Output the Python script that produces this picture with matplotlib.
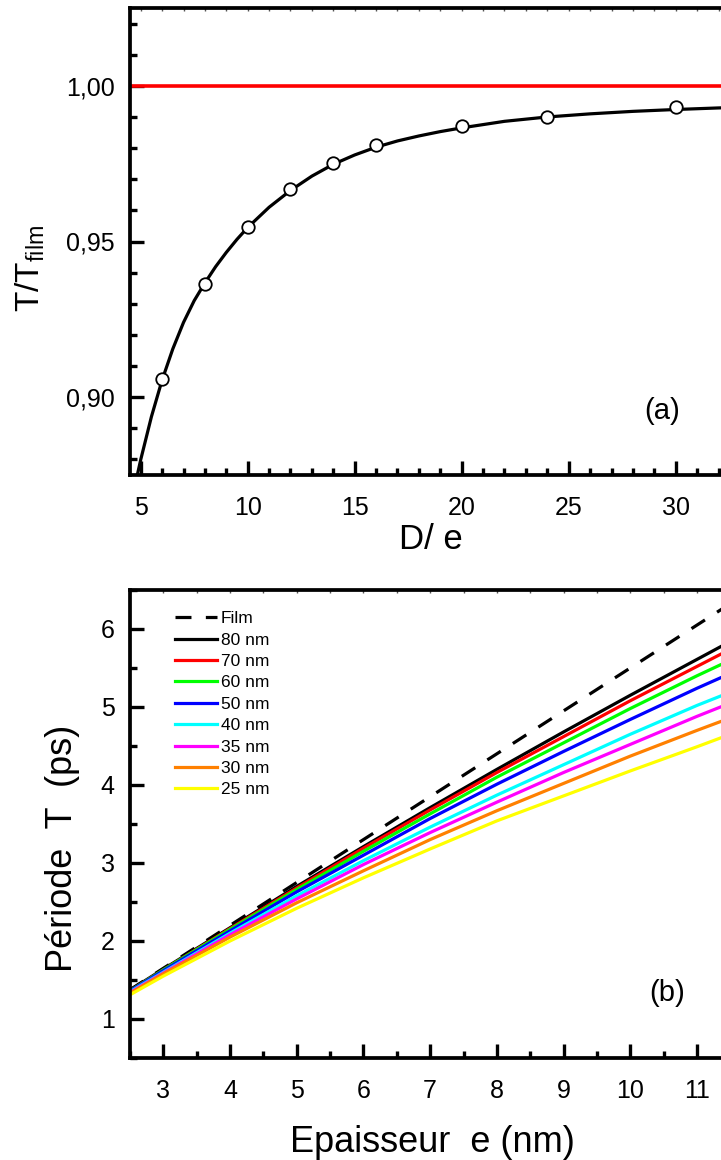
import matplotlib
matplotlib.use('Agg')
import matplotlib.pyplot as plt
from matplotlib.ticker import MultipleLocator, FuncFormatter

plt.rcParams['font.family'] = ['Liberation Sans', 'DejaVu Sans']
plt.rcParams['mathtext.default'] = 'regular'

# (a) rapport T/Tfilm en fonction de D/e
d_sur_e_points = [6, 8, 10, 12, 14, 16, 20, 24, 30]
rapport_points = [0.9058, 0.9365, 0.9548, 0.9668, 0.9752, 0.981, 0.9871, 0.990, 0.9932]

d_sur_e_courbe = [4.6, 5.0, 5.5, 6.0, 6.5, 7.0, 7.5, 8.0, 8.5, 9.0, 9.5, 10, 11, 12, 13, 14,
                  15, 16, 17, 18, 19, 20, 22, 24, 26, 28, 30, 32, 34]
rapport_courbe = [0.8675, 0.8799, 0.8937, 0.9055, 0.9155, 0.9240, 0.9310, 0.9367, 0.9419,
                  0.9465, 0.9507, 0.9545, 0.9610, 0.9664, 0.9710, 0.9748, 0.9778, 0.9803,
                  0.9823, 0.9839, 0.9853, 0.9865, 0.9886, 0.9900, 0.9910, 0.9918, 0.9924,
                  0.9929, 0.9933]

rapport_film = 1.0

# (b) periode T en fonction de l'epaisseur
epaisseur_film = [2.5, 11.5]
periode_film = [1.375, 6.325]

epaisseur = [2.5, 3, 4, 5, 6, 7, 8, 9, 10, 11, 11.5]
tailles = ['80 nm', '70 nm', '60 nm', '50 nm', '40 nm', '35 nm', '30 nm', '25 nm']
periode_80 = [1.37, 1.64, 2.17, 2.70, 3.21, 3.71, 4.20, 4.68, 5.15, 5.61, 5.84]
periode_70 = [1.36, 1.63, 2.16, 2.68, 3.19, 3.68, 4.16, 4.62, 5.08, 5.52, 5.74]
periode_60 = [1.36, 1.63, 2.15, 2.66, 3.15, 3.63, 4.10, 4.54, 4.98, 5.40, 5.60]
periode_50 = [1.36, 1.62, 2.13, 2.63, 3.10, 3.57, 4.01, 4.43, 4.84, 5.24, 5.43]
periode_40 = [1.35, 1.60, 2.10, 2.58, 3.03, 3.46, 3.87, 4.26, 4.65, 5.02, 5.19]
periode_35 = [1.34, 1.59, 2.08, 2.54, 2.98, 3.39, 3.78, 4.16, 4.52, 4.88, 5.05]
periode_30 = [1.33, 1.58, 2.05, 2.49, 2.90, 3.30, 3.67, 4.02, 4.37, 4.70, 4.86]
periode_25 = [1.31, 1.55, 2.00, 2.42, 2.81, 3.18, 3.54, 3.86, 4.18, 4.49, 4.65]
series = [periode_80, periode_70, periode_60, periode_50,
          periode_40, periode_35, periode_30, periode_25]
couleurs = ['#000000', '#FF0000', '#00FF00', '#0000FF',
            '#00FFFF', '#FF00FF', '#FF8000', '#FFFF00']

W, H = 721, 1160
fig = plt.figure(figsize=(W / 100, H / 100), dpi=100)


def style_axes(ax, maj_x, min_x, maj_y, min_y):
    for s in ax.spines.values():
        s.set_linewidth(2.7)
    ax.spines['right'].set_visible(False)
    ax.xaxis.set_major_locator(MultipleLocator(maj_x))
    ax.xaxis.set_minor_locator(MultipleLocator(min_x))
    ax.yaxis.set_major_locator(MultipleLocator(maj_y))
    ax.yaxis.set_minor_locator(MultipleLocator(min_y))
    ax.tick_params(which='both', direction='in', top=False, right=False, width=2.4)
    ax.tick_params(which='major', length=10, labelsize=18)
    ax.tick_params(which='major', axis='x', pad=15)
    ax.tick_params(which='major', axis='y', pad=11)
    ax.tick_params(which='minor', length=5)
    # petites graduations en haut
    top = ax.secondary_xaxis('top')
    top.xaxis.set_major_locator(MultipleLocator(min_x))
    top.tick_params(direction='in', length=2.5, width=1.0, colors='#555555', labeltop=False)
    top.spines['top'].set_visible(False)


# --- panneau (a) ---
ax1 = fig.add_axes([130 / W, 1 - 475 / H, 29.5 * 21.4 / W, 467 / H])
ax1.axhline(rapport_film, color='#FF0000', lw=2.6, zorder=2)
ax1.plot(d_sur_e_courbe, rapport_courbe, color='black', lw=2.3, zorder=3)
ax1.plot(d_sur_e_points, rapport_points, 'o', ms=9, mfc='white', mec='black', mew=1.3, zorder=4)
ax1.set_xlim(4.5, 34)
ax1.set_ylim(0.875, 1.025)
style_axes(ax1, 5, 1, 0.05, 0.01)
ax1.yaxis.set_major_formatter(FuncFormatter(lambda v, p: f'{v:.2f}'.replace('.', ',')))
fig.text(662 / W, 1 - 411 / H, '(a)', fontsize=21, ha='center', va='center')
fig.text(431 / W, 1 - 540 / H, 'D/ e', fontsize=25, ha='center', va='center')
fig.text(30 / W, 1 - 268 / H, r'$T/T_{film}$', fontsize=24, rotation=90,
         ha='center', va='center')

# --- panneau (b) ---
ax2 = fig.add_axes([130 / W, 1 - 1058 / H, 9.4 * 66.7 / W, 468 / H])
ax2.plot(epaisseur_film, periode_film, color='black', lw=2.3, dashes=(5, 4.5), label='Film')
for y, c, lab in zip(series, couleurs, tailles):
    ax2.plot(epaisseur, y, color=c, lw=2.3, label=lab)
ax2.set_xlim(2.5, 11.9)
ax2.set_ylim(0.5, 6.5)
style_axes(ax2, 1, 0.5, 1, 0.5)
ax2.legend(loc='upper left', bbox_to_anchor=(45 / 627, 0.955), frameon=False,
           fontsize=12.5, handlelength=2.4, handletextpad=0.24, labelspacing=0.36,
           borderpad=0, borderaxespad=0)
fig.text(667 / W, 1 - 993 / H, '(b)', fontsize=21, ha='center', va='center')
fig.text(432 / W, 1 - 1143 / H, 'Epaisseur  e (nm)', fontsize=26, ha='center', va='center')
fig.text(62 / W, 1 - 848 / H, 'Période  T  (ps)', fontsize=26, rotation=90,
         ha='center', va='center')

fig.savefig('out.png', dpi=100)
